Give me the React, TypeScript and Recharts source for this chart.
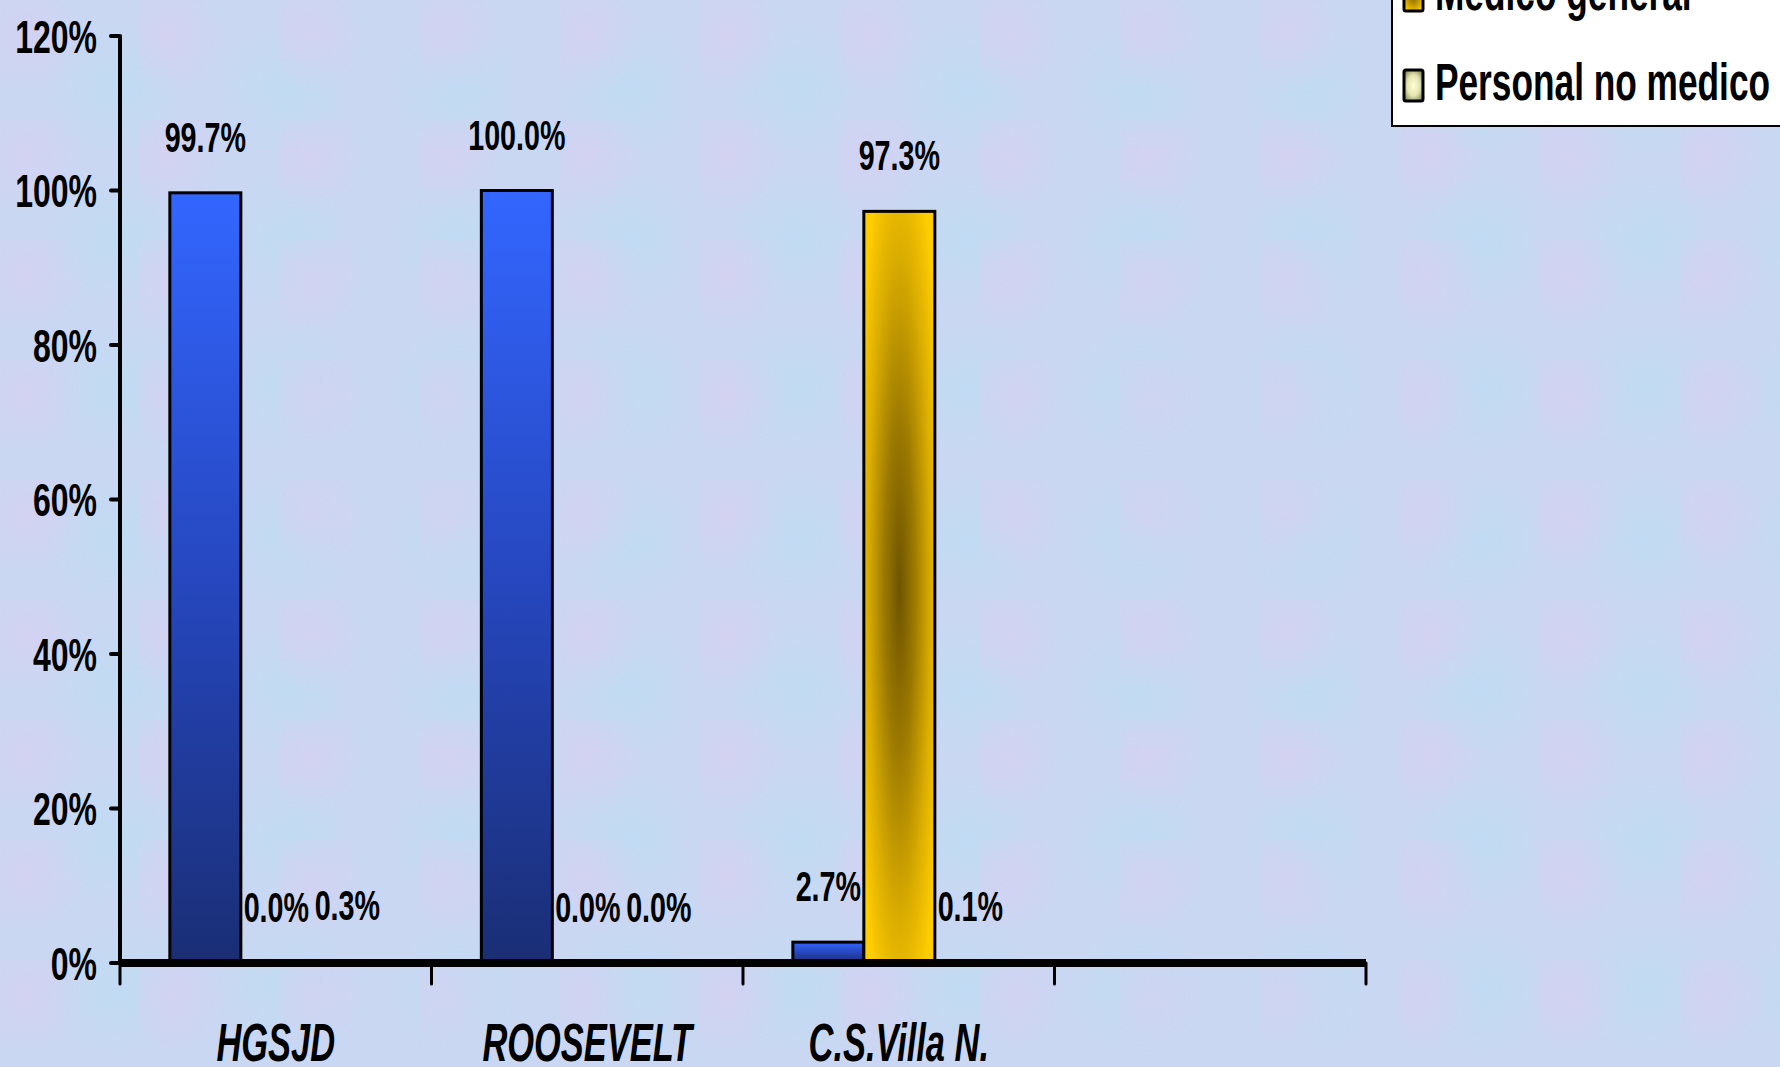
import React from "react";
import { Bar, BarChart, Legend, XAxis, YAxis } from "recharts";

const CATEGORIES = ["HGSJD", "ROOSEVELT", "C.S.Villa N.", ""];
const ESPECIALISTA = [99.7, 100.0, 2.7, null];
const GENERAL = [0.0, 0.0, 97.3, null];
const NO_MEDICO = [0.3, 0.0, 0.1, null];
const Y_TICKS = [0, 20, 40, 60, 80, 100, 120];

const SERIES = [
  { key: "especialista", name: "Medico especialista", fill: "url(#gradBlue)" },
  { key: "general", name: "Medico general", fill: "url(#gradYellow)" },
  { key: "noMedico", name: "Personal no medico", fill: "url(#gradCream)" },
];

const data = CATEGORIES.map((name, i) => ({
  name,
  especialista: ESPECIALISTA[i],
  general: GENERAL[i],
  noMedico: NO_MEDICO[i],
}));

// Arial Narrow look: Liberation Sans squeezed horizontally, the original is also stretched tall
const FONT = "'Liberation Sans', Arial, sans-serif";
const NARROW = 0.82;
const TALL = 1.2;

function pct(v: unknown): string {
  if (v === null || v === undefined || v === "") return "";
  return `${Number(v).toFixed(1)}%`;
}

function makeShape(dataKey: string) {
  return function BarShape(props: any) {
    const { x, y, width, height, fill, payload } = props;
    const value = payload ? payload[dataKey] : props.value;
    if (value === null || value === undefined) return null;
    return (
      <g>
        {height > 0 && (
          <rect x={x} y={y} width={width} height={height} fill={fill} stroke="#000" strokeWidth={3} />
        )}
        <text
          transform={`translate(${x + width / 2}, ${y - 41}) scale(${NARROW}, ${TALL})`}
          textAnchor="middle"
          fontFamily={FONT}
          fontWeight="bold"
          fontSize={35}
          fill="#000"
        >
          {pct(value)}
        </text>
      </g>
    );
  };
}

function PercentTick(props: any) {
  const { x, y, payload } = props;
  return (
    <text
      transform={`translate(${x}, ${y}) scale(${NARROW}, ${TALL})`}
      dy="0.36em"
      textAnchor="end"
      fontFamily={FONT}
      fontWeight="bold"
      fontSize={39}
      fill="#000"
    >
      {`${payload.value}%`}
    </text>
  );
}

function CategoryTick(props: any) {
  const { x, y, payload, index } = props;
  const half = payload?.offset ? payload.offset : 155.75;
  const last = index === CATEGORIES.length - 1;
  return (
    <g>
      <line x1={x - half} y1={y} x2={x - half} y2={y + 21} stroke="#000" strokeWidth={3} strokeLinecap="round" />
      {last && (
        <line x1={x + half} y1={y} x2={x + half} y2={y + 21} stroke="#000" strokeWidth={3} strokeLinecap="round" />
      )}
      <text
        transform={`translate(${x}, ${y + 98}) scale(${NARROW}, 1.26)`}
        textAnchor="middle"
        fontFamily={FONT}
        fontWeight="bold"
        fontStyle="italic"
        fontSize={42}
        fill="#000"
      >
        {payload.value}
      </text>
    </g>
  );
}

function LegendBox(props: any) {
  const payload = props.payload || [];
  const fills: Record<string, string> = {
    especialista: "url(#lgBlue)",
    general: "url(#lgYellow)",
    noMedico: "url(#lgCream)",
  };
  return (
    <svg width={395} height={277} style={{ display: "block" }}>
      <defs>
        <linearGradient id="lgBlue" x1="0" y1="0" x2="0" y2="1">
          <stop offset="0%" stopColor="#3366ff" />
          <stop offset="100%" stopColor="#1a2e75" />
        </linearGradient>
        <radialGradient id="lgYellow" cx="0.5" cy="0.5" r="0.6">
          <stop offset="0%" stopColor="#7a5e00" />
          <stop offset="100%" stopColor="#ffcc00" />
        </radialGradient>
        <radialGradient id="lgCream" cx="0.5" cy="0.5" r="0.6">
          <stop offset="0%" stopColor="#ffffd8" />
          <stop offset="55%" stopColor="#e4e4b0" />
          <stop offset="100%" stopColor="#8a8a5c" />
        </radialGradient>
      </defs>
      <rect x={1} y={1} width={400} height={275} fill="#fff" stroke="#000" strokeWidth={2} />
      {payload.map((entry: any, i: number) => {
        const base = 70 + 90 * i;
        return (
          <g key={entry.dataKey}>
            <rect
              x={13}
              y={base - 30}
              width={19}
              height={31}
              rx={2}
              fill={fills[entry.dataKey]}
              stroke="#000"
              strokeWidth={3}
            />
            <text
              transform={`translate(44, ${base}) scale(${NARROW}, ${TALL})`}
              fontFamily={FONT}
              fontWeight="bold"
              fontSize={43}
              fill="#000"
            >
              {entry.value}
            </text>
          </g>
        );
      })}
    </svg>
  );
}

export default function App() {
  return (
    <div
      style={{
        position: "relative",
        width: 1780,
        height: 1067,
        overflow: "hidden",
        backgroundColor: "#c9d7f2",
        backgroundImage:
          "radial-gradient(circle at 20% 30%, rgba(230,200,240,0.35) 0, rgba(230,200,240,0) 60px), radial-gradient(circle at 70% 60%, rgba(180,225,245,0.4) 0, rgba(180,225,245,0) 70px)",
        backgroundSize: "140px 120px, 170px 150px",
      }}
    >
      <style>{`body{margin:0}`}</style>
      <BarChart
        width={1780}
        height={1067}
        data={data}
        margin={{ top: 36, right: 414, bottom: 0, left: 0 }}
        barCategoryGap="16%"
        barGap={0}
      >
        <defs>
          <linearGradient id="gradBlue" x1="0" y1="0" x2="0" y2="1">
            <stop offset="0%" stopColor="#3366ff" />
            <stop offset="50%" stopColor="#2647bf" />
            <stop offset="100%" stopColor="#1a2e75" />
          </linearGradient>
          <radialGradient id="gradYellow" cx="0.5" cy="0.5" r="0.62">
            <stop offset="0%" stopColor="#6e5400" />
            <stop offset="35%" stopColor="#9c7a00" />
            <stop offset="70%" stopColor="#d8ab00" />
            <stop offset="100%" stopColor="#ffcc00" />
          </radialGradient>
          <radialGradient id="gradCream" cx="0.5" cy="0.5" r="0.6">
            <stop offset="0%" stopColor="#ffffd8" />
            <stop offset="100%" stopColor="#8a8a5c" />
          </radialGradient>
        </defs>
        <XAxis
          dataKey="name"
          height={104}
          axisLine={{ stroke: "#000", strokeWidth: 8 }}
          tickLine={false}
          tickSize={0}
          tickMargin={0}
          interval={0}
          tick={<CategoryTick />}
        />
        <YAxis
          width={120}
          domain={[0, 120]}
          ticks={Y_TICKS}
          interval={0}
          axisLine={{ stroke: "#000", strokeWidth: 4 }}
          tickLine={{ stroke: "#000", strokeWidth: 4, strokeLinecap: "round" }}
          tickSize={9}
          tickMargin={14}
          tick={<PercentTick />}
        />
        <Legend
          layout="vertical"
          align="center"
          verticalAlign="middle"
          content={<LegendBox />}
          wrapperStyle={{ position: "absolute", left: 1391, top: -150, width: 395, height: 277, bottom: "auto", right: "auto" }}
        />
        {SERIES.map((s) => (
          <Bar
            key={s.key}
            dataKey={s.key}
            name={s.name}
            fill={s.fill}
            shape={makeShape(s.key)}
            isAnimationActive={false}
          />
        ))}
      </BarChart>
    </div>
  );
}
